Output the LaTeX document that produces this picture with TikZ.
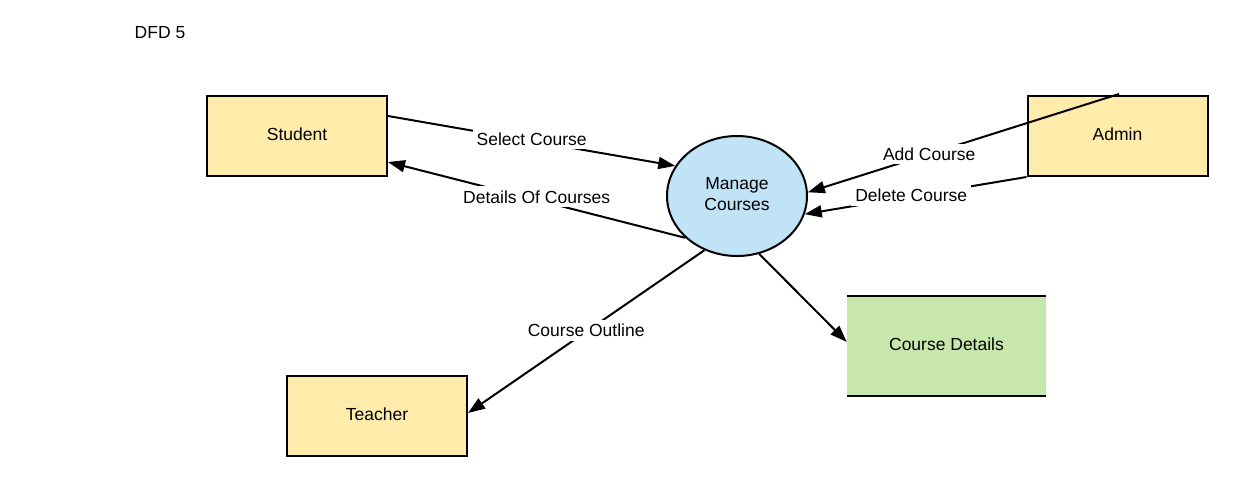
\documentclass[tikz,border=0pt]{standalone}
\usepackage{fontspec}
\setmainfont{Liberation Sans}
\usetikzlibrary{arrows.meta,shapes.geometric}
\definecolor{entyellow}{RGB}{255,236,170}
\definecolor{procblue}{RGB}{193,227,246}
\definecolor{storegreen}{RGB}{199,231,173}
\begin{document}
\begin{tikzpicture}[x=1pt,y=-1pt,
 font=\fontsize{17.5}{21}\selectfont,
 entity/.style={draw=black,line width=2pt,fill=entyellow,minimum width=180pt,minimum height=80pt,inner sep=0pt,text height=12.6pt,text depth=4pt},
 process/.style={ellipse,draw=black,line width=2pt,fill=procblue,minimum width=140pt,minimum height=120pt,inner sep=0pt,align=center},
 store/.style={fill=storegreen,minimum width=199pt,minimum height=100pt,inner sep=0pt,text height=12.6pt,text depth=4pt},
 storeline/.style={line width=2pt},
 flow/.style={line width=2pt,-{Triangle[length=17pt,width=12pt]}},
 lbl/.style={fill=white,inner xsep=4pt,inner ysep=4pt}]
\useasboundingbox (0,0) rectangle (1247,496);
\node (title) at (160,33) {DFD 5};
\node[entity] (st) at (297,136) {Student};
\node[entity] (ad) at (1117.5,136) {Admin};
\node[entity] (te) at (377,416) {Teacher};
\node[store] (cd) at (946.5,346) {Course Details};
\draw[storeline] (cd.north west) -- (cd.north east);
\draw[storeline] (cd.south west) -- (cd.south east);
\node[process] (mc) at (737,196) {\raisebox{2pt}{\begin{tabular}{@{}c@{}}Manage\\Courses\end{tabular}}};
\draw[flow] ([yshift=20pt]st.east) -- node[lbl,pos=0.5,yshift=2pt] {Select Course} (mc.154);
\draw[flow] (mc.219) -- node[lbl,pos=0.5,yshift=3pt] {Details Of Courses} ([yshift=-26pt]st.east);
\draw[flow] ([xshift=1.5pt,yshift=1pt]ad.north) -- node[lbl,pos=0.61] {Add Course} (mc.3);
\draw[flow] (ad.south west) -- node[lbl,pos=0.52,yshift=1pt] {Delete Course} (mc.-15);
\draw[flow] (mc.239) -- node[lbl,pos=0.5,yshift=1pt] {Course Outline} ([yshift=3pt]te.east);
\draw[flow] (mc.291) -- ([yshift=4pt]cd.west);
\end{tikzpicture}
\end{document}
